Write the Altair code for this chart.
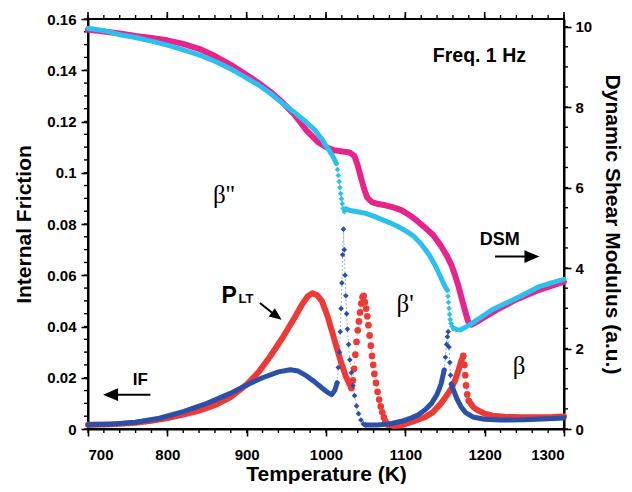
import altair as alt
import pandas as pd

# ---------------- data ----------------
# Internal friction, heating (red circles) -- dense parts / sparse parts
RED_T_A = [700, 720, 740, 760, 780, 800, 820, 840, 860, 880, 900, 915, 930, 945, 960, 970, 977, 983, 989, 995, 1002, 1010, 1018, 1025, 1032]
RED_V_A = [0.0017, 0.0018, 0.0020, 0.0024, 0.0032, 0.0043, 0.0056, 0.0072, 0.0093, 0.0125, 0.0173, 0.0222, 0.0285, 0.0355, 0.0432, 0.0487, 0.0518, 0.0530, 0.0522, 0.0498, 0.0440, 0.0355, 0.0270, 0.0205, 0.0160]
RED_T_B = [1032, 1034, 1035.5, 1037, 1038.5, 1040, 1041.5, 1043, 1044.5, 1046, 1047.5, 1049, 1050.5, 1052, 1053.5, 1055, 1056.5, 1058, 1059.5, 1061, 1063, 1065, 1067, 1069, 1071, 1073, 1075, 1078]
RED_V_B = [0.0160, 0.0190, 0.0235, 0.0290, 0.0340, 0.0385, 0.0420, 0.0455, 0.0490, 0.0515, 0.0520, 0.0495, 0.0470, 0.0440, 0.0405, 0.0365, 0.0325, 0.0285, 0.0250, 0.0215, 0.0180, 0.0145, 0.0115, 0.0088, 0.0065, 0.0045, 0.0030, 0.0018]
RED_T_C = [1078, 1085, 1095, 1105, 1115, 1125, 1135, 1145, 1152, 1158, 1163, 1167, 1170, 1173]
RED_V_C = [0.0018, 0.0012, 0.0014, 0.0025, 0.0035, 0.0047, 0.0066, 0.0100, 0.0130, 0.0158, 0.0192, 0.0230, 0.0260, 0.0285]
RED_T_D = [1173, 1174.5, 1175.5, 1176.5, 1178, 1180]
RED_V_D = [0.0285, 0.0250, 0.0210, 0.0170, 0.0135, 0.0110]
RED_T_E = [1180, 1185, 1190, 1200, 1210, 1225, 1245, 1265, 1285, 1300]
RED_V_E = [0.0110, 0.0088, 0.0075, 0.0060, 0.0052, 0.0048, 0.0046, 0.0046, 0.0047, 0.0049]

# Internal friction, cooling (dark blue diamonds)
BLUE_T_A = [700, 730, 760, 790, 820, 850, 880, 900, 920, 940, 955, 965, 975, 985, 995, 1002, 1007, 1011, 1014]
BLUE_V_A = [0.0017, 0.0019, 0.0026, 0.0042, 0.0068, 0.0100, 0.0140, 0.0172, 0.0200, 0.0223, 0.0231, 0.0226, 0.0208, 0.0186, 0.0160, 0.0143, 0.0134, 0.0150, 0.0180]
BLUE_T_B = [1014, 1015.5, 1017, 1018, 1019, 1020, 1021, 1022, 1023, 1024, 1025, 1026, 1027, 1028.5, 1030, 1032, 1034, 1036, 1038.5, 1041, 1044, 1047, 1050]
BLUE_V_B = [0.0180, 0.0240, 0.0300, 0.0380, 0.0470, 0.0570, 0.0680, 0.0780, 0.0700, 0.0600, 0.0520, 0.0450, 0.0390, 0.0330, 0.0270, 0.0220, 0.0170, 0.0130, 0.0090, 0.0060, 0.0035, 0.0020, 0.0016]
BLUE_T_C = [1050, 1065, 1080, 1095, 1105, 1115, 1125, 1133, 1140, 1145, 1149]
BLUE_V_C = [0.0016, 0.0016, 0.0020, 0.0030, 0.0040, 0.0053, 0.0075, 0.0100, 0.0135, 0.0175, 0.0230]
BLUE_T_D = [1149, 1150.5, 1152, 1153, 1154, 1155, 1156, 1157, 1158]
BLUE_V_D = [0.0230, 0.0280, 0.0330, 0.0360, 0.0380, 0.0320, 0.0260, 0.0210, 0.0175]
BLUE_T_E = [1158, 1161, 1165, 1170, 1176, 1185, 1200, 1220, 1250, 1280, 1300]
BLUE_V_E = [0.0175, 0.0150, 0.0118, 0.0088, 0.0064, 0.0047, 0.0038, 0.0035, 0.0036, 0.0040, 0.0043]

# Dynamic shear modulus, heating (magenta circles)
MAG_T = [700, 720, 740, 760, 780, 800, 820, 840, 860, 880, 900, 915, 930, 945, 960, 975, 990, 1000, 1010, 1020, 1030, 1036, 1040, 1044, 1048, 1052, 1058, 1066, 1075, 1085, 1095, 1105, 1115, 1125, 1135, 1145, 1152, 1158, 1163, 1167, 1171, 1175, 1179, 1183, 1195, 1215, 1240, 1269, 1300]
MAG_V = [9.92, 9.88, 9.83, 9.77, 9.72, 9.66, 9.57, 9.45, 9.27, 9.05, 8.80, 8.60, 8.38, 8.12, 7.82, 7.43, 7.13, 7.01, 6.93, 6.90, 6.87, 6.78, 6.55, 6.25, 5.97, 5.75, 5.64, 5.59, 5.56, 5.51, 5.44, 5.32, 5.17, 5.00, 4.82, 4.55, 4.32, 4.08, 3.80, 3.55, 3.25, 2.96, 2.68, 2.59, 2.72, 2.96, 3.22, 3.46, 3.66]

# Dynamic shear modulus, cooling (light blue diamonds)
CYAN_T_A = [700, 720, 740, 760, 780, 800, 820, 840, 860, 880, 900, 915, 930, 945, 960, 975, 986, 995, 1001, 1008, 1013]
CYAN_V_A = [9.96, 9.90, 9.80, 9.73, 9.64, 9.54, 9.42, 9.30, 9.14, 8.95, 8.72, 8.55, 8.34, 8.10, 7.87, 7.63, 7.43, 7.20, 7.01, 6.80, 6.60]
CYAN_T_B = [1013, 1014.5, 1015.5, 1016.5, 1017.5, 1018.5, 1019.5, 1020.5, 1021.5, 1023, 1025]
CYAN_V_B = [6.60, 6.45, 6.30, 6.15, 6.00, 5.85, 5.72, 5.60, 5.48, 5.40, 5.47]
CYAN_T_C = [1025, 1030, 1040, 1050, 1060, 1070, 1080, 1090, 1100, 1110, 1120, 1130, 1138, 1144, 1149, 1153]
CYAN_V_C = [5.47, 5.43, 5.40, 5.36, 5.29, 5.21, 5.13, 5.04, 4.93, 4.80, 4.60, 4.33, 4.05, 3.80, 3.58, 3.45]
CYAN_T_D = [1153, 1153.7, 1154.4, 1155.1, 1155.8, 1156.5, 1157.5, 1159, 1161]
CYAN_V_D = [3.45, 3.30, 3.15, 3.00, 2.85, 2.72, 2.62, 2.55, 2.50]
CYAN_T_E = [1161, 1165, 1169, 1175, 1182, 1194, 1210, 1236, 1250, 1269, 1285, 1300]
CYAN_V_E = [2.50, 2.47, 2.46, 2.52, 2.60, 2.76, 2.97, 3.21, 3.35, 3.54, 3.64, 3.72]

# axis ticks
X_TICKS = [700, 800, 900, 1000, 1100, 1200, 1300]
X_MINOR = [t for t in range(700, 1301, 20)]
IF_TICKS = [0, 0.02, 0.04, 0.06, 0.08, 0.1, 0.12, 0.14, 0.16]
IF_MINOR = [round(k * 0.005, 3) for k in range(0, 33)]
DSM_TICKS = [0, 2, 4, 6, 8, 10]
DSM_MINOR = [k * 0.5 for k in range(0, 21)]

# ---------------- styling ----------------
RED = "#ee3a36"
BLUE = "#2a50a8"
MAGENTA = "#e6248c"
CYAN = "#2cc0ee"
FONT = "Liberation Sans"
W, H = 476, 410

XS = alt.Scale(domain=[700, 1300], nice=False, zero=False)
YI = alt.Scale(domain=[0, 0.16], nice=False, zero=True)
YD = alt.Scale(domain=[0, 10.19], nice=False, zero=True)

axis_common = dict(
    domainColor="black", domainWidth=2, tickColor="black", tickWidth=1.6,
    tickSize=7, labelFont=FONT, labelFontWeight="bold", labelFontSize=15,
    labelColor="black", titleFont=FONT, titleFontWeight="bold",
    titleFontSize=21, titleColor="black", grid=False,
)
# the same axis object is given to every layer that shares a scale
X_AXIS = alt.Axis(values=X_TICKS, format="d", orient="bottom", title="Temperature (K)",
                  labelPadding=11, titlePadding=1, **axis_common)
IF_AXIS = alt.Axis(values=IF_TICKS, format="~g", orient="left", title="Internal Friction",
                   labelPadding=5, titlePadding=12, **axis_common)
DSM_AXIS = alt.Axis(values=DSM_TICKS, format="d", orient="right",
                    title="Dynamic Shear Modulus (a.u.)", labelPadding=4, titlePadding=10,
                    **axis_common)


def X(field="T"):
    return alt.X(f"{field}:Q", scale=XS, axis=X_AXIS)


def YIF(field="V"):
    return alt.Y(f"{field}:Q", scale=YI, axis=IF_AXIS)


def YDSM(field="V"):
    return alt.Y(f"{field}:Q", scale=YD, axis=DSM_AXIS)


def seg_frame(parts, name):
    rows = []
    for k, (ts, vs) in enumerate(parts):
        for i, (t, v) in enumerate(zip(ts, vs)):
            rows.append({"T": t, "V": v, "seg": f"{name}{k}", "i": i})
    return pd.DataFrame(rows)


def dense(df, color, width, yenc):
    return alt.Chart(df).mark_line(
        color=color, strokeWidth=width, strokeCap="round", strokeJoin="round"
    ).encode(x=X(), y=yenc(), detail="seg:N", order="i:Q")


def sparse(df, color, shape, size, yenc):
    ln = alt.Chart(df).mark_line(
        color=color, strokeWidth=0.8, strokeDash=[2, 2], opacity=0.55
    ).encode(x=X(), y=yenc(), detail="seg:N", order="i:Q")
    pts = alt.Chart(df).mark_point(
        shape=shape, filled=True, size=size, color=color, opacity=1
    ).encode(x=X(), y=yenc())
    return [ln, pts]


red_dense = seg_frame([(RED_T_A, RED_V_A), (RED_T_C, RED_V_C), (RED_T_E, RED_V_E)], "r")
red_sparse = seg_frame([(RED_T_B, RED_V_B), (RED_T_D, RED_V_D)], "rs")
blue_dense = seg_frame([(BLUE_T_A, BLUE_V_A), (BLUE_T_C, BLUE_V_C), (BLUE_T_E, BLUE_V_E)], "b")
blue_sparse = seg_frame([(BLUE_T_B, BLUE_V_B), (BLUE_T_D, BLUE_V_D)], "bs")
mag_dense = seg_frame([(MAG_T, MAG_V)], "m")
cyan_dense = seg_frame([(CYAN_T_A, CYAN_V_A), (CYAN_T_C, CYAN_V_C), (CYAN_T_E, CYAN_V_E)], "c")
cyan_sparse = seg_frame([(CYAN_T_B, CYAN_V_B), (CYAN_T_D, CYAN_V_D)], "cs")

# ---- minor ticks, top ticks and top frame line ----
xdf = pd.DataFrame({"T": X_MINOR})
bottom_minor = alt.Chart(xdf).mark_rule(color="black", strokeWidth=1.4).encode(
    x=X(), y=alt.value(H), y2=alt.value(H + 4),
)
top_minor = alt.Chart(xdf).mark_rule(color="black", strokeWidth=1.4).encode(
    x=X(), y=alt.value(0), y2=alt.value(-4),
)
top_major = alt.Chart(pd.DataFrame({"T": X_TICKS})).mark_rule(color="black", strokeWidth=1.6).encode(
    x=X(), y=alt.value(0), y2=alt.value(-7),
)
top_frame = alt.Chart(pd.DataFrame({"T": [700]})).mark_rule(color="black", strokeWidth=2).encode(
    x=alt.value(0), x2=alt.value(W), y=alt.value(0),
)
left_minor = alt.Chart(pd.DataFrame({"V": IF_MINOR})).mark_rule(color="black", strokeWidth=1.4).encode(
    y=YIF(), x=alt.value(0), x2=alt.value(-4),
)
right_minor = alt.Chart(pd.DataFrame({"V": DSM_MINOR})).mark_rule(color="black", strokeWidth=1.4).encode(
    y=YDSM(), x=alt.value(W), x2=alt.value(W + 4),
)


# ---- annotations (placed in data units) ----
def label(text, t, v, size, bold=True, font=FONT, align="left", baseline="alphabetic"):
    return alt.Chart(pd.DataFrame({"T": [t], "V": [v], "s": [text]})).mark_text(
        font=font, fontSize=size, fontWeight="bold" if bold else "normal",
        align=align, baseline=baseline, color="black",
    ).encode(x=X(), y=YIF(), text="s:N")


def shaft(t0, v0, t1, v1):
    return alt.Chart(pd.DataFrame({"T": [t0], "V": [v0], "t1": [t1], "v1": [v1]})).mark_rule(
        color="black", strokeWidth=2
    ).encode(x=X(), x2="t1:Q", y=YIF(), y2="v1:Q")


HEAD_R = "M0,0L-2,-0.85L-2,0.85Z"
HEAD_L = "M0,0L2,-0.85L2,0.85Z"


def head(t, v, path, size, angle=0):
    return alt.Chart(pd.DataFrame({"T": [t], "V": [v]})).mark_point(
        shape=path, filled=True, size=size, color="black", opacity=1, angle=angle,
        strokeWidth=0,
    ).encode(x=X(), y=YIF())


if_group = alt.layer(
    dense(red_dense, RED, 6, YIF),
    *sparse(red_sparse, RED, "circle", 45, YIF),
    dense(blue_dense, BLUE, 5, YIF),
    *sparse(blue_sparse, BLUE, "diamond", 32, YIF),
    left_minor, bottom_minor, top_minor, top_major, top_frame,
    label("Freq. 1 Hz", 1134.6, 0.1433, 19.5),
    label("β''", 857.5, 0.0914, 25, bold=False, font="Liberation Serif", baseline="middle"),
    label("β'", 1088.9, 0.0489, 25, bold=False, font="Liberation Serif", baseline="middle"),
    label("β", 1235.4, 0.0247, 25, bold=False, font="Liberation Serif", baseline="middle"),
    label("DSM", 1193.8, 0.0719, 18),
    label("IF", 756.3, 0.0173, 17),
    label("P", 868.4, 0.0492, 23),
    label("LT", 889.6, 0.0492, 13),
    shaft(1213.0, 0.0673, 1255.0, 0.0673),
    head(1269.0, 0.0673, HEAD_R, 225),
    shaft(731.0, 0.0134, 778.6, 0.0134),
    head(719.0, 0.0134, HEAD_L, 225),
    shaft(916.7, 0.0492, 936.0, 0.0444),
    head(944.0, 0.0426, HEAD_R, 150, angle=37),
)

dsm_group = alt.layer(
    dense(mag_dense, MAGENTA, 6, YDSM),
    dense(cyan_dense, CYAN, 5, YDSM),
    *sparse(cyan_sparse, CYAN, "diamond", 32, YDSM),
    right_minor,
)

chart = alt.layer(if_group, dsm_group).resolve_scale(y="independent").properties(
    width=W, height=H,
    background="white",
    autosize=alt.AutoSizeParams(type="none"),
    padding={"left": 80, "top": 11, "right": 60, "bottom": 55},
).configure_view(stroke="black", strokeWidth=2)

chart.save("out.html", embed_options={"renderer": "svg", "actions": False})
